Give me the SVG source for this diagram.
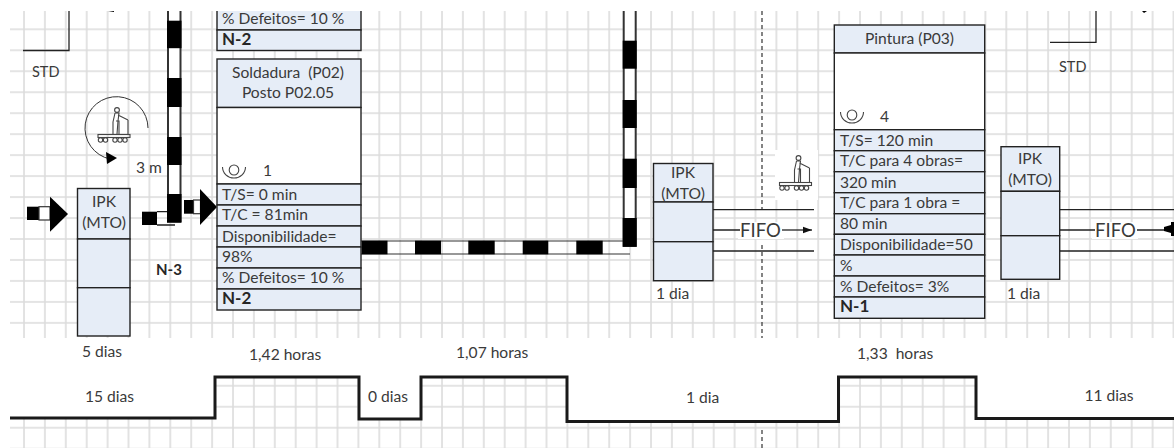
<svg xmlns="http://www.w3.org/2000/svg" width="1174" height="448" viewBox="0 0 1174 448">
<style>
text{font-family:"Lato","Open Sans","Liberation Sans",sans-serif;font-size:15.6px;fill:#3a3a3a}
.b{font-weight:700;fill:#262626;font-size:17px}
.n3{font-size:15px}
.s{font-size:14.5px}
.m{text-anchor:middle}
.f{font-size:18.500px}
.box{fill:#e6edf7;stroke:#222;stroke-width:1.4}
.w{fill:#fff;stroke:#222;stroke-width:1.4}
.l{fill:none;stroke:#222;stroke-width:1.3}
.k{fill:#000}
.pw{fill:#fff;stroke:#333;stroke-width:1.2}
.pv{fill:#fff;stroke:#333;stroke-width:2}
.step{fill:none;stroke:#1a1a1a;stroke-width:3}
.ic{fill:none;stroke:#444;stroke-width:1.100}
</style>
<defs>
<pattern id="grid" patternUnits="userSpaceOnUse" x="23" y="28.3" width="20.9" height="20.97">
<path d="M1 0V20.970M0 1H20.900" fill="none" stroke="#dcdcdc" stroke-width="1.600"/>
</pattern>
<marker id="ah" markerWidth="8" markerHeight="6" refX="7" refY="3" orient="auto"><path d="M0 0.5L7 3L0 5.5z" fill="#111"/></marker>
<g id="op"><path class="ic" stroke-width="1.400" d="M0 0a11.500 11 0 0 0 23 0"/><ellipse class="ic" cx="11.500" cy="3" rx="4.800" ry="5"/></g>
<g id="fork"><circle class="ic" cx="19" cy="3" r="2.400"/><path class="ic" d="M17 6h4l-1 8-1 13M17 6l-2 9v12M20 8l10 5M30 13v14"/><path class="ic" d="M18 14l3 0v13"/><rect class="ic" x="0" y="27.500" width="32" height="3"/><circle class="ic" cx="2.500" cy="33" r="2.200"/><circle class="ic" cx="7.500" cy="33" r="2.200"/><circle class="ic" cx="17" cy="33" r="2.200"/><circle class="ic" cx="22" cy="33" r="2.200"/><circle class="ic" cx="27" cy="33" r="2.200"/></g>
</defs>

<g id="background">
<rect x="10" y="11" width="1164" height="437" fill="url(#grid)"/>
<path d="M0 338H1174V418H976V377H838V421H567V377H421V419H359V377H215V418H0z" fill="#fff"/>
<rect x="775" y="150" width="43" height="50" fill="#fff"/>
<rect x="738" y="222" width="46" height="17" fill="#fff"/>
<rect x="1092" y="222" width="46" height="17" fill="#fff"/>
</g>

<g id="takt-line">
<path d="M762 11V210M762 245V338M762 430V448" fill="none" stroke="#333" stroke-width="1.2" stroke-dasharray="4 3"/>
</g>

<g id="std-left"><path class="l" d="M23 50.5H69V11"/><path class="k" d="M108 12l6-1v1z"/><text class="s" x="32" y="77">STD</text></g>
<g id="std-right"><path class="l" d="M1050 42.3H1096V11"/><path class="k" d="M1142 11h5l-3 2z"/><text class="s" x="1059" y="72">STD</text></g>

<g id="connectors">
<g id="push-vertical-left">
<path class="pv" d="M168 11V222H180.500V11" />
<rect class="k" x="167" y="20.7" width="14.5" height="27.5"/><rect class="k" x="167" y="78" width="14.5" height="29"/><rect class="k" x="167" y="137" width="14.5" height="28"/><rect class="k" x="167" y="194" width="14.5" height="28"/>
<rect class="k" x="142" y="211.7" width="15" height="13.3"/><path class="l" d="M157 211.7H167M157 225H175"/>
</g>
<g id="arrow-in-1"><rect class="k" x="27" y="206.7" width="12" height="13.3"/><rect class="pw" x="39" y="206.7" width="11" height="13.3"/><path class="k" d="M50 196.7L68 214L50 231.7z"/></g>
<g id="arrow-in-2"><rect class="k" x="184" y="200" width="9.5" height="13.7"/><rect class="pw" x="193.5" y="200" width="7" height="13.7"/><path class="k" d="M200 189L217 207L200 225z"/></g>
<g id="push-horizontal">
<path class="pw" d="M361 241H630M630 254H361" />
<rect class="k" x="361.5" y="240.7" width="26" height="13.6"/><rect class="k" x="415" y="240.7" width="26" height="13.6"/><rect class="k" x="468.3" y="240.7" width="26.4" height="13.6"/><rect class="k" x="522.7" y="240.7" width="25.6" height="13.6"/><rect class="k" x="576.3" y="240.7" width="26.4" height="13.6"/>
</g>
<g id="push-vertical-right">
<path class="pv" d="M623.700 11V246H635.700V11"/>
<rect class="k" x="622.7" y="40.7" width="14" height="28"/><rect class="k" x="622.7" y="100" width="14" height="28"/><rect class="k" x="622.7" y="158.7" width="14" height="29.3"/><rect class="k" x="622.7" y="218" width="14" height="28.7"/>
</g>
<g id="fifo-1">
<path class="l" d="M713 209.7H814M713 251H814M713 230H740"/>
<path class="l" d="M782 230H812" marker-end="url(#ah)"/>
<text class="f" x="740" y="236.5">FIFO</text>
</g>
<g id="fifo-2">
<path class="l" d="M1058 209.7H1174M1058 251H1174M1058 230H1095M1137 230H1170"/>
<text class="f" x="1095" y="236.5">FIFO</text>
<path class="k" d="M1164 227l7-2v-3h3v14h-3v-3l-7-2z"/>
</g>
</g>

<g id="node-top">
<rect class="box" x="217" y="5" width="144" height="25"/>
<rect class="box" x="217" y="30" width="144" height="20.5"/>
<rect x="210" y="0" width="158" height="11" fill="#fff"/>
<text x="222" y="24">% Defeitos= 10 %</text>
<text class="b" x="222" y="45">N-2</text>
</g>

<g id="node-soldadura">
<rect class="box" x="217" y="59" width="144" height="48.5"/>
<rect class="w" x="217" y="107.5" width="144" height="76.5"/>
<rect class="box" x="217" y="184" width="144" height="21"/>
<rect class="box" x="217" y="205" width="144" height="21"/>
<rect class="box" x="217" y="226" width="144" height="21"/>
<rect class="box" x="217" y="247" width="144" height="21"/>
<rect class="box" x="217" y="268" width="144" height="21"/>
<rect class="box" x="217" y="289" width="144" height="21"/>
<text class="m" x="288" y="78">Soldadura&#160; (P02)</text>
<text class="m" x="288" y="98">Posto P02.05</text>
<use href="#op" x="222.500" y="167"/>
<text x="263" y="176">1</text>
<text x="222" y="200">T/S= 0 min</text>
<text x="222" y="220">T/C = 81min</text>
<text x="222" y="241.7">Disponibilidade=</text>
<text x="222" y="262">98%</text>
<text x="222" y="283">% Defeitos= 10 %</text>
<text class="b" x="222" y="304">N-2</text>
</g>

<g id="node-ipk-1">
<rect class="box" x="77.5" y="188.5" width="52.5" height="50.5"/>
<rect class="box" x="77.5" y="239" width="52.5" height="48.7"/>
<rect class="box" x="77.5" y="287.7" width="52.5" height="48.3"/>
<text class="m" x="104" y="207">IPK</text>
<text class="m" x="104" y="228">(MTO)</text>
<text x="82" y="356.7">5 dias</text>
</g>

<g id="node-ipk-2">
<rect class="box" x="653.5" y="163.5" width="59.5" height="38.5"/>
<rect class="box" x="653.5" y="202" width="59.5" height="39.7"/>
<rect class="box" x="653.5" y="241.7" width="59.5" height="39"/>
<text class="m" x="683" y="177.7">IPK</text>
<text class="m" x="683" y="199">(MTO)</text>
<text x="656" y="299">1 dia</text>
</g>

<g id="node-pintura">
<rect class="box" x="834.3" y="25" width="150.4" height="28"/>
<rect class="w" x="834.3" y="53" width="150.4" height="76.7"/>
<rect class="box" x="834.3" y="129.7" width="150.4" height="21"/>
<rect class="box" x="834.3" y="150.7" width="150.4" height="21"/>
<rect class="box" x="834.3" y="171.7" width="150.4" height="21"/>
<rect class="box" x="834.3" y="192.7" width="150.4" height="21"/>
<rect class="box" x="834.3" y="213.7" width="150.4" height="20.6"/>
<rect class="box" x="834.3" y="234.3" width="150.4" height="20.7"/>
<rect class="box" x="834.3" y="255" width="150.4" height="21"/>
<rect class="box" x="834.3" y="276" width="150.4" height="21"/>
<rect class="box" x="834.3" y="297" width="150.4" height="21.3"/>
<text class="m" x="909.5" y="44">Pintura (P03)</text>
<use href="#op" x="840.500" y="112"/>
<text x="880" y="121.7">4</text>
<text x="840" y="145.7">T/S= 120 min</text>
<text x="840" y="166">T/C para 4 obras=</text>
<text x="840" y="187.7">320 min</text>
<text x="840" y="208">T/C para 1 obra =</text>
<text x="840" y="228.5">80 min</text>
<text x="840" y="250">Disponibilidade=50</text>
<text x="840" y="271">%</text>
<text x="840" y="291.7">% Defeitos= 3%</text>
<text class="b" x="840" y="312">N-1</text>
</g>

<g id="node-ipk-3">
<rect class="box" x="1001" y="146.7" width="58.7" height="44.6"/>
<rect class="box" x="1001" y="191.3" width="58.7" height="44.4"/>
<rect class="box" x="1001" y="235.7" width="58.7" height="43.6"/>
<text class="m" x="1030" y="164">IPK</text>
<text class="m" x="1030" y="185">(MTO)</text>
<text x="1007" y="299">1 dia</text>
</g>

<g id="transport-1">
<path fill="none" stroke="#333" stroke-width="1" d="M148 128A31.500 31.500 0 1 0 110 159"/>
<path class="k" d="M106 152L117 158L107 164z"/>
<use href="#fork" x="98" y="107"/>
<text x="136" y="172.700">3 m</text>
</g>
<g id="transport-2"><use href="#fork" x="779.500" y="155"/></g>

<g id="timeline">
<path class="step" d="M10 418H215V377H359V419H421V377H567V421.500H838.500V377H976V418.500H1174"/>
<text x="85" y="401.700">15 dias</text>
<text x="249" y="360">1,42 horas</text>
<text x="368" y="401.700">0 dias</text>
<text x="456" y="358">1,07 horas</text>
<text x="686" y="403">1 dia</text>
<text x="857" y="359">1,33&#160; horas</text>
<text x="1084.500" y="401">11 dias</text>
<text class="b n3" x="156" y="275">N-3</text>
</g>
</svg>
